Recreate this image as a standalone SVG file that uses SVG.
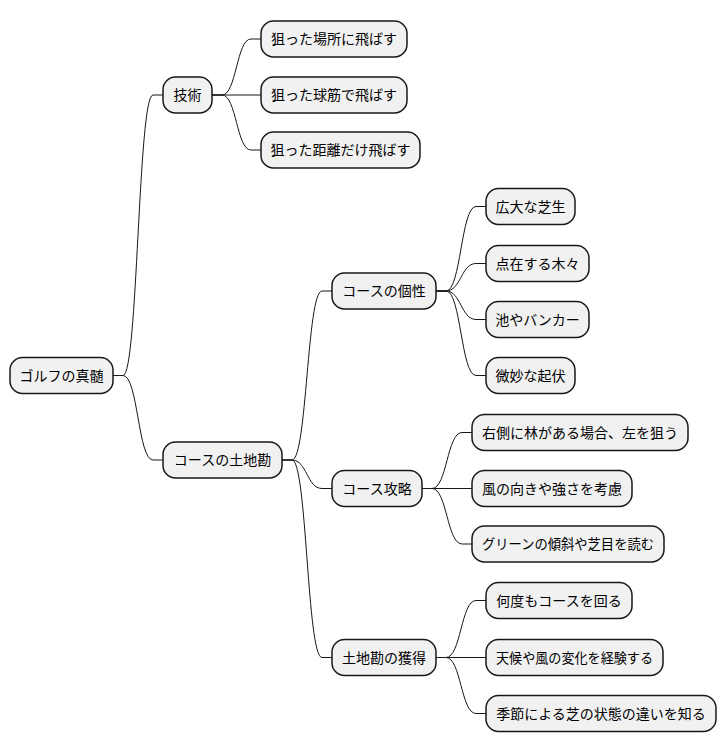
<svg xmlns="http://www.w3.org/2000/svg" width="726" height="752" viewBox="0 0 726 752">
<style>
.n rect{fill:#F1F1F1;stroke:#181818;stroke-width:1.5}
.n text{font-family:"Noto Sans CJK JP","Noto Sans",sans-serif;font-size:14px;fill:#000;text-anchor:middle}
#connectors path{fill:none;stroke:#181818;stroke-width:1}
</style>
<rect width="726" height="752" fill="#FFFFFF"/>
<g id="connectors">
<path d="M113,375.5 L123,375.5 C138,375.5 138,95 153,95 L163,95"/>
<path d="M113,375.5 L123,375.5 C138,375.5 138,460 153,460 L163,460"/>
<path d="M212,95 L222,95 C236.5,95 236.5,39 251,39 L261,39"/>
<path d="M212,95 L261,95"/>
<path d="M212,95 L222,95 C236.5,95 236.5,150 251,150 L261,150"/>
<path d="M282,460 L292,460 C307,460 307,291 322,291 L332,291"/>
<path d="M282,460 L292,460 C307,460 307,488.5 322,488.5 L332,488.5"/>
<path d="M282,460 L292,460 C307,460 307,657.5 322,657.5 L332,657.5"/>
<path d="M436,291 L446,291 C461,291 461,206.5 476,206.5 L486,206.5"/>
<path d="M436,291 L446,291 C461,291 461,263.5 476,263.5 L486,263.5"/>
<path d="M436,291 L446,291 C461,291 461,319.5 476,319.5 L486,319.5"/>
<path d="M436,291 L446,291 C461,291 461,375.5 476,375.5 L486,375.5"/>
<path d="M422,488.5 L432,488.5 C447,488.5 447,432.5 462,432.5 L472,432.5"/>
<path d="M422,488.5 L472,488.5"/>
<path d="M422,488.5 L432,488.5 C447,488.5 447,544 462,544 L472,544"/>
<path d="M436,657.5 L446,657.5 C461,657.5 461,600.5 476,600.5 L486,600.5"/>
<path d="M436,657.5 L486,657.5"/>
<path d="M436,657.5 L446,657.5 C461,657.5 461,713.5 476,713.5 L486,713.5"/>
</g>
<g id="root" class="n"><rect x="10" y="357.5" width="103" height="36" rx="12.5"/><text x="61.5" y="380.5">ゴルフの真髄</text></g>
<g id="gijutsu" class="n"><rect x="163" y="77" width="49" height="36" rx="12.5"/><text x="187.5" y="100">技術</text></g>
<g id="t1" class="n"><rect x="261" y="21" width="146" height="36" rx="12.5"/><text x="334" y="44">狙った場所に飛ばす</text></g>
<g id="t2" class="n"><rect x="261" y="77" width="146" height="36" rx="12.5"/><text x="334" y="100">狙った球筋で飛ばす</text></g>
<g id="t3" class="n"><rect x="261" y="132" width="159" height="36" rx="12.5"/><text x="340.5" y="155" textLength="140" lengthAdjust="spacingAndGlyphs">狙った距離だけ飛ばす</text></g>
<g id="tochikan" class="n"><rect x="163" y="442" width="119" height="36" rx="12.5"/><text x="222.5" y="465">コースの土地勘</text></g>
<g id="kosei" class="n"><rect x="332" y="273" width="104" height="36" rx="12.5"/><text x="384" y="296">コースの個性</text></g>
<g id="k1" class="n"><rect x="486" y="188.5" width="89" height="36" rx="12.5"/><text x="530.5" y="211.5">広大な芝生</text></g>
<g id="k2" class="n"><rect x="486" y="245.5" width="103" height="36" rx="12.5"/><text x="537.5" y="268.5">点在する木々</text></g>
<g id="k3" class="n"><rect x="486" y="301.5" width="103" height="36" rx="12.5"/><text x="537.5" y="324.5">池やバンカー</text></g>
<g id="k4" class="n"><rect x="486" y="357.5" width="89" height="36" rx="12.5"/><text x="530.5" y="380.5">微妙な起伏</text></g>
<g id="koryaku" class="n"><rect x="332" y="470.5" width="90" height="36" rx="12.5"/><text x="377" y="493.5">コース攻略</text></g>
<g id="r1" class="n"><rect x="472" y="414.5" width="216" height="36" rx="12.5"/><text x="580" y="437.5">右側に林がある場合、左を狙う</text></g>
<g id="r2" class="n"><rect x="472" y="470.5" width="160" height="36" rx="12.5"/><text x="552" y="493.5">風の向きや強さを考慮</text></g>
<g id="r3" class="n"><rect x="472" y="526" width="192" height="36" rx="12.5"/><text x="568" y="549" textLength="172" lengthAdjust="spacingAndGlyphs">グリーンの傾斜や芝目を読む</text></g>
<g id="kakutoku" class="n"><rect x="332" y="639.5" width="104" height="36" rx="12.5"/><text x="384" y="662.5">土地勘の獲得</text></g>
<g id="a1" class="n"><rect x="486" y="582.5" width="146" height="36" rx="12.5"/><text x="559" y="605.5">何度もコースを回る</text></g>
<g id="a2" class="n"><rect x="486" y="639.5" width="177" height="36" rx="12.5"/><text x="574.5" y="662.5" textLength="157" lengthAdjust="spacingAndGlyphs">天候や風の変化を経験する</text></g>
<g id="a3" class="n"><rect x="486" y="695.5" width="230" height="36" rx="12.5"/><text x="601" y="718.5">季節による芝の状態の違いを知る</text></g>
</svg>
